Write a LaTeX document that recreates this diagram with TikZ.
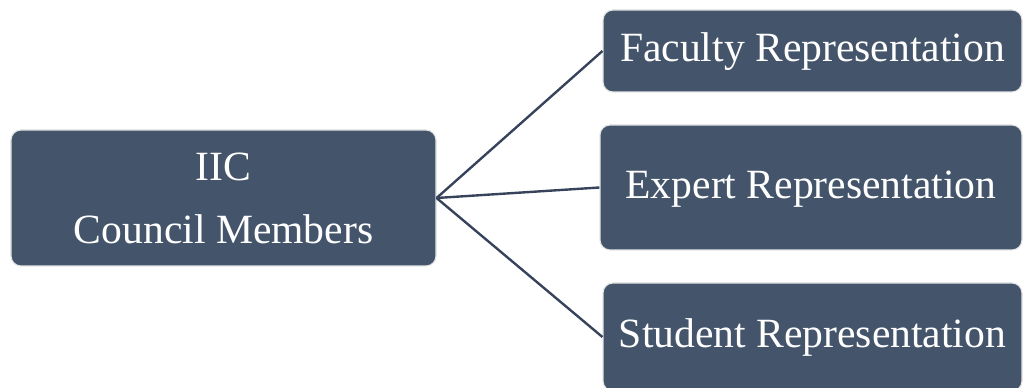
\documentclass[tikz,border=0pt]{standalone}
\usepackage{fontspec}
\setmainfont{Liberation Serif}
\usepackage{xcolor}
\usetikzlibrary{positioning}

\definecolor{boxblue}{HTML}{44546A}
\definecolor{linkblue}{HTML}{36435A}

\begin{document}
\begin{tikzpicture}[
    member/.style={fill=boxblue, draw=black!10, line width=0.8pt, rounded corners=0.25cm,
        text=white, align=center, inner sep=0pt,
        font=\fontsize{29.6pt}{44.8pt}\selectfont},
    single/.style={text height=0.62cm, text depth=0.08cm},
    link/.style={linkblue, line width=1.7pt}
]
    \useasboundingbox (0,0) rectangle (25.575,9.7);

    % Council box on the left
    \node[member, minimum width=10.625cm, minimum height=3.4cm] (iic) at (5.5875,4.75)
        {IIC\\Council Members};

    % Representation boxes on the right
    \node[member, single, minimum width=10.475cm, minimum height=2.05cm] (faculty) at (20.3125,8.425)
        {Faculty Representation};
    \node[member, single, minimum width=10.55cm, minimum height=3.125cm] (expert) at (20.275,5.0125)
        {Expert Representation};
    \node[member, single, minimum width=10.475cm, minimum height=2.7cm] (student) at (20.3125,1.275)
        {Student Representation};

    % Connectors
    \foreach \n in {faculty,expert,student} {
        \draw[link] (iic.east) -- (\n.west);
    }

\end{tikzpicture}
\end{document}
